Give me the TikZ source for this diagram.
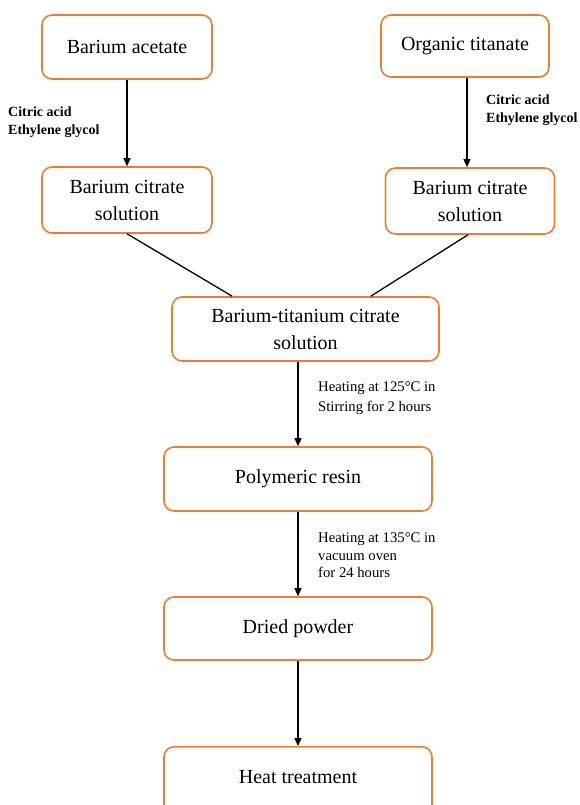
\documentclass[tikz,border=0pt]{standalone}
\usepackage{fontspec}
\setmainfont{Liberation Serif}
\usetikzlibrary{arrows.meta}
\definecolor{boxorange}{RGB}{237,125,49}
\tikzset{
  box/.style={draw=boxorange, line width=1.6pt, rounded corners=10pt, fill=white, align=center,
    font=\fontsize{20}{27}\selectfont, inner sep=0pt},
  arr/.style={line width=1.3pt, -{Triangle[length=8pt,width=7pt]}},
  ln/.style={line width=1.3pt},
  note/.style={align=left, anchor=north west, inner sep=0pt, font=\fontsize{14.7}{20}\selectfont},
  note2/.style={note, font=\fontsize{14.7}{17.5}\selectfont},
  bnote/.style={align=left, anchor=north west, inner sep=0pt, font=\bfseries\fontsize{14}{18}\selectfont},
}
\begin{document}
\begin{tikzpicture}[x=1pt,y=-1pt]
\useasboundingbox (0,0) rectangle (580,805);
\clip (0,0) rectangle (580,805);
\node[box, minimum width=170pt, minimum height=64pt] (ba) at (127,47) {Barium acetate};
\node[box, minimum width=168pt, minimum height=62pt] (ot) at (465,46) {Organic titanate};
\node[box, minimum width=170pt, minimum height=66pt] (lc) at (127,200) {Barium citrate\\solution};
\node[box, minimum width=169pt, minimum height=66pt] (rc) at (470,201) {Barium citrate\\solution};
\node[box, minimum width=267pt, minimum height=64pt] (bt) at (305.5,329) {Barium-titanium citrate\\solution};
\node[box, minimum width=268pt, minimum height=64pt] (res) at (298,479) {Polymeric resin};
\node[box, minimum width=268pt, minimum height=63pt] (dp) at (298,628.5) {Dried powder};
\node[box, minimum width=268pt, minimum height=80pt, anchor=north] (ht) at (298,746) {};
\node[font=\fontsize{20}{27}\selectfont] (htt) at (298,777) {Heat treatment};

\draw[arr] (ba.south) -- (lc.north);
\draw[arr] ([xshift=2pt]ot.south) -- ([xshift=-3pt]rc.north);
\draw[ln] (lc.south) -- ([xshift=61pt]bt.north west);
\draw[ln] ([xshift=-2pt]rc.south) -- ([xshift=-69pt]bt.north east);
\draw[arr] (bt.south -| res.north) -- (res.north);
\draw[arr] (res.south) -- (dp.north);
\draw[arr] (dp.south) -- (ht.north);

\node[bnote] (n1) at (8,107) {Citric acid\\Ethylene glycol};
\node[bnote] (n2) at (486,95) {Citric acid\\Ethylene glycol};
\node[note] (n3) at (318,382) {Heating at 125°C in\\Stirring for 2 hours};
\node[note2] (n4) at (318,533) {Heating at 135°C in\\vacuum oven\\for 24 hours};
\end{tikzpicture}
\end{document}
